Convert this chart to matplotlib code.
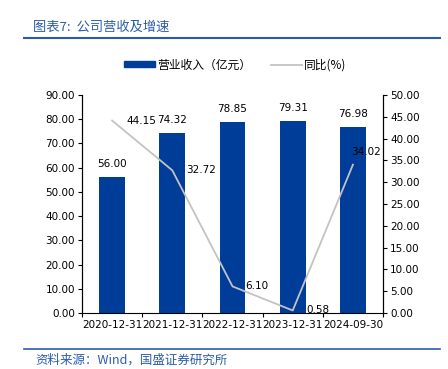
import numpy as np
import matplotlib.pyplot as plt
from matplotlib.lines import Line2D
from matplotlib.patches import Patch

plt.rcParams['font.family'] = ['DejaVu Sans', 'Noto Sans CJK SC']

dates = ['2020-12-31', '2021-12-31', '2022-12-31', '2023-12-31', '2024-09-30']
revenue = [56.00, 74.32, 78.85, 79.31, 76.98]
yoy = [44.15, 32.72, 6.10, 0.58, 34.02]

bar_color = '#003d99'
line_color = '#c3c3c3'
accent = '#2a5caa'

fig = plt.figure(figsize=(4.48, 3.69), dpi=100)
ax = fig.add_axes([0.183, 0.1518, 0.672, 0.5907])
ax2 = ax.twinx()

x = np.arange(len(dates))
ax.bar(x, revenue, width=0.43, color=bar_color, zorder=2)
for xi, v in zip(x, revenue):
    ax.annotate(f'{v:.2f}', (xi, v), xytext=(0, 8), textcoords='offset pixels',
                ha='center', va='bottom', fontsize=7.5)

ax2.plot(x, yoy, color=line_color, lw=1.3, zorder=3)
# label offsets in pixels (Excel style "right" placement, last one nudged up)
offsets = [(14, 0), (14, 0), (13, 0), (14, 0), (-2, 13)]
for xi, v, (dx, dy) in zip(x, yoy, offsets):
    ax2.annotate(f'{v:.2f}', (xi, v), xytext=(dx, dy), textcoords='offset pixels',
                 ha='left', va='center', fontsize=7.5)

ax.set_xlim(-0.5, len(dates) - 0.5)
ax.set_ylim(0, 90)
ax.set_yticks(np.arange(0, 91, 10))
ax.set_yticklabels([f'{t:.2f}' for t in np.arange(0, 91, 10)])
ax2.set_ylim(0, 50)
ax2.set_yticks(np.arange(0, 51, 5))
ax2.set_yticklabels([f'{t:.2f}' for t in np.arange(0, 51, 5)])
ax.set_xticks(x)
ax.set_xticklabels(dates)
ax.set_xticks(np.arange(-0.5, len(dates)), minor=True)

for a in (ax, ax2):
    a.spines['top'].set_visible(False)
    a.tick_params(labelsize=7.5, width=0.8, length=3, direction='out', pad=2)
ax.tick_params(axis='x', which='major', length=0, pad=5)
ax.tick_params(axis='x', which='minor', length=3, width=0.8)
ax2.spines['bottom'].set_visible(False)
ax.set_zorder(ax2.get_zorder() - 1)
ax.patch.set_visible(False)

handles = [Patch(color=bar_color), Line2D([], [], color=line_color, lw=1.3)]
fig.legend(handles, ['营业收入（亿元）', '同比(%)'], loc='center',
           bbox_to_anchor=(0.525, 0.824), ncol=2, frameon=False,
           handlelength=2.6, handleheight=0.42, columnspacing=1.7, handletextpad=0.2,
           prop={'family': ['Noto Sans CJK SC'], 'size': 8.5})

fig.text(0.074, 0.927, '图表7:  公司营收及增速', fontsize=9.5, color=accent,
         family=['Noto Sans CJK SC'], style='italic', va='center')
fig.add_artist(Line2D([0.054, 0.982], [0.897, 0.897], color=accent, lw=1.5))
fig.add_artist(Line2D([0.054, 0.982], [0.054, 0.054], color=accent, lw=1.2))
fig.text(0.078, 0.024, '资料来源：Wind，国盛证券研究所', fontsize=9, color=accent,
         family=['Noto Sans CJK SC'], style='italic', va='center')

fig.savefig('out.png', dpi=100)
